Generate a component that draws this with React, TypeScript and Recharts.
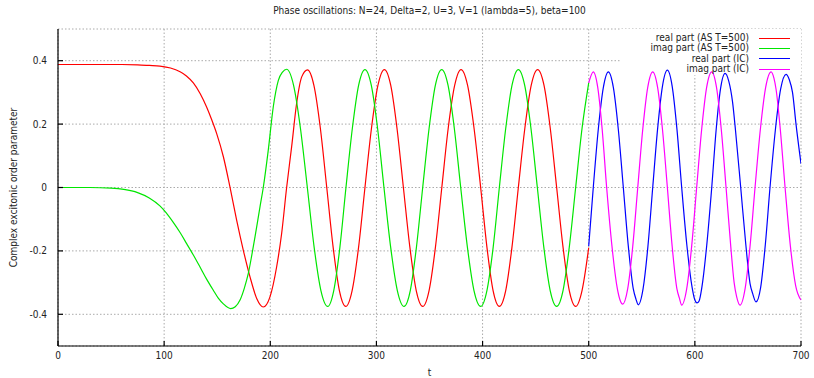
import React from 'react';
import { LineChart, Line, XAxis, YAxis, CartesianGrid, ReferenceArea, Legend } from 'recharts';

// [t, value] pairs
const realAS: [number, number][] = [
  [0, 0.388], [30, 0.388], [60, 0.388], [75, 0.387], [86, 0.385], [96, 0.383], [106, 0.377], [115, 0.365],
  [121, 0.352], [127.5, 0.33], [134, 0.296], [140, 0.254], [145, 0.212], [149.5, 0.17], [155.8, 0.097],
  [162, 0.002], [168.3, -0.103], [174.6, -0.198], [180.9, -0.282], [187.2, -0.35], [193.4, -0.377],
  [199.7, -0.345], [206, -0.25], [210.7, -0.145], [215.4, 0], [220.1, 0.128], [224.8, 0.265], [229.6, 0.349],
  [235.1, 0.371], [241.1, 0.322], [247.2, 0.186], [253.2, 0], [259.2, -0.188], [265.1, -0.325], [271.1, -0.375],
  [277.1, -0.325], [283.2, -0.188], [289.2, 0], [295.3, 0.186], [301.4, 0.322], [307.5, 0.372], [313.5, 0.322],
  [319.4, 0.186], [325.4, 0], [331.5, -0.188], [337.5, -0.325], [343.6, -0.375], [349.6, -0.325], [355.6, -0.188],
  [361.6, 0], [367.6, 0.186], [373.7, 0.322], [379.7, 0.372], [385.9, 0.322], [392, 0.186], [398.2, 0],
  [404.1, -0.188], [409.9, -0.325], [415.8, -0.375], [421.8, -0.325], [427.7, -0.188], [433.7, 0], [439.8, 0.186],
  [445.8, 0.322], [451.9, 0.372], [457.9, 0.322], [463.8, 0.186], [469.8, 0], [475.8, -0.188], [481.7, -0.325],
  [487.7, -0.375], [493.7, -0.325], [500, -0.19],
];

const imagAS: [number, number][] = [
  [0, 0], [30, 0], [50, -0.002], [62, -0.006], [75, -0.016], [86, -0.033], [96, -0.058], [102, -0.08],
  [108.6, -0.11], [115, -0.142], [121.2, -0.177], [127.5, -0.213], [133.8, -0.251], [140, -0.289], [146.3, -0.324],
  [151, -0.349], [155.8, -0.367], [162.7, -0.382], [167, -0.376], [171.5, -0.355], [175.5, -0.318], [179.3, -0.271],
  [182.5, -0.215], [185.6, -0.156], [190.3, -0.061], [193.4, 0], [198.1, 0.118], [202.8, 0.254], [207.6, 0.338],
  [211.5, 0.364], [215.4, 0.373], [221.9, 0.323], [228.4, 0.187], [234.9, 0], [241.3, -0.188], [247.7, -0.325],
  [254.1, -0.375], [259.8, -0.325], [265.6, -0.188], [271.3, 0], [277.3, 0.186], [283.2, 0.322], [289.2, 0.372],
  [295.2, 0.322], [301.1, 0.186], [307.1, 0], [313.4, -0.188], [319.7, -0.325], [326, -0.375], [331.9, -0.325],
  [337.7, -0.188], [343.6, 0], [349.6, 0.186], [355.5, 0.322], [361.5, 0.372], [367.5, 0.322], [373.4, 0.186],
  [379.4, 0], [385.7, -0.188], [391.9, -0.325], [398.2, -0.375], [404.1, -0.325], [410, -0.188], [415.8, 0],
  [421.8, 0.186], [427.7, 0.322], [433.7, 0.372], [439.7, 0.322], [445.6, 0.186], [451.6, 0], [457.7, -0.188],
  [463.7, -0.325], [469.8, -0.375], [475.8, -0.325], [481.7, -0.188], [487.7, 0], [493.7, 0.186], [500, 0.33],
];

const realIC: [number, number][] = [
  [500, -0.185], [504.3, 0], [509, 0.183], [513.8, 0.316], [518.5, 0.365], [523.2, 0.316], [527.9, 0.183],
  [532.6, 0], [537.3, -0.185], [542, -0.32], [544.5, -0.352], [546.7, -0.37], [551.2, -0.32], [555.8, -0.185],
  [560.3, 0], [564.9, 0.185], [569.5, 0.32], [574.1, 0.37], [578.6, 0.32], [583.1, 0.185], [587.6, 0],
  [592.5, -0.183], [597.4, -0.315], [600, -0.355], [602, -0.364], [604, -0.358], [606.6, -0.315], [611.2, -0.182],
  [615.9, 0], [620, 0.18], [624.2, 0.312], [628.4, 0.36], [632, 0.335], [635.5, 0.27], [638.3, 0.18], [643.2, 0],
  [648, -0.18], [652, -0.303], [654.5, -0.335], [657.6, -0.361], [662, -0.315], [666.4, -0.18], [670.8, 0],
  [675.8, 0.18], [680.8, 0.31], [685.9, 0.357], [689, 0.34], [692, 0.3], [695.3, 0.2], [700, 0.075],
];

const imagIC: [number, number][] = [
  [500, 0.33], [504.3, 0.365], [508.5, 0.316], [512.7, 0.183], [516.9, 0], [521.9, -0.185], [527, -0.32],
  [529.5, -0.355], [532, -0.368], [536.7, -0.32], [541.5, -0.185], [546.2, 0], [550.9, 0.183], [555.6, 0.316],
  [560.3, 0.365], [564.9, 0.316], [569.5, 0.183], [574.1, 0], [578.6, -0.185], [583.1, -0.32], [585.5, -0.35],
  [587.6, -0.371], [592.3, -0.32], [597, -0.185], [601.7, 0], [606.4, 0.183], [611.1, 0.316], [615.9, 0.365],
  [620.4, 0.316], [624.9, 0.183], [629.4, 0], [633.8, -0.185], [637, -0.3], [639.4, -0.345], [642.6, -0.371],
  [647.3, -0.32], [652, -0.185], [656.7, 0], [661.7, 0.183], [666.7, 0.316], [671.8, 0.365], [674.5, 0.345],
  [676.5, 0.31], [680.5, 0.183], [685, 0], [690, -0.185], [695, -0.31], [700, -0.355],
];

const xTicks = [0, 100, 200, 300, 400, 500, 600, 700];
const yTicks = [-0.4, -0.2, 0, 0.2, 0.4];

const series = [
  { name: 'real part (AS T=500)', color: '#ff0000', pts: realAS },
  { name: 'imag part (AS T=500)', color: '#00e600', pts: imagAS },
  { name: 'real part (IC)', color: '#0000ff', pts: realIC },
  { name: 'imag part (IC)', color: '#ff00ff', pts: imagIC },
];

const font = "'DejaVu Sans Condensed', 'DejaVu Sans', sans-serif";
const tickStyle = { fontSize: 10, fill: '#222', fontFamily: font };

const KeyBox = () => (
  <div style={{ fontFamily: font, fontSize: 10, color: '#222', lineHeight: '10.3px' }}>
    {series.map(s => (
      <div key={s.name} style={{ display: 'flex', alignItems: 'center', justifyContent: 'flex-end' }}>
        <span>{s.name}</span>
        <span style={{ display: 'inline-block', width: 31, height: 0, borderTop: `1.5px solid ${s.color}`, marginLeft: 10 }} />
      </div>
    ))}
  </div>
);

export default function App() {
  return (
    <div style={{ position: 'absolute', left: 0, top: 0, width: 814, height: 378, background: '#fff' }}>
      <div style={{ position: 'absolute', top: 5, left: 58, width: 743, textAlign: 'center', fontFamily: font, fontSize: 10, color: '#222' }}>
        Phase oscillations: N=24, Delta=2, U=3, V=1 (lambda=5), beta=100
      </div>
      <LineChart width={814} height={378} margin={{ top: 29, right: 13, left: 0, bottom: 0 }}>
        <CartesianGrid stroke="#aaa" strokeDasharray="1.5 2" />
        <ReferenceArea x1={529.5} x2={700} y1={0.354} y2={0.5} fill="#fff" fillOpacity={1} stroke="none" />
        <XAxis dataKey="t" type="number" domain={[0, 700]} ticks={xTicks} height={32} allowDataOverflow
          tick={tickStyle} tickSize={-5} tickMargin={11} stroke="#000" strokeWidth={1.2}
          label={{ value: 't', position: 'insideBottom', offset: 2, style: { fontSize: 10, fill: '#222', fontFamily: font } }} />
        <XAxis xAxisId="top" orientation="top" type="number" domain={[0, 700]} ticks={xTicks} height={0}
          tickFormatter={() => ''} tickSize={-5} stroke="#000" strokeWidth={1.2} />
        <YAxis type="number" domain={[-0.5, 0.5]} ticks={yTicks} width={58} allowDataOverflow
          tick={tickStyle} tickSize={-5} tickMargin={16} stroke="#000" strokeWidth={1.2}
          tickFormatter={(v: number) => (v === 0 ? '0' : v.toFixed(1))}
          label={{ value: 'Complex excitonic order parameter', angle: -90, position: 'insideLeft', offset: 13,
            style: { textAnchor: 'middle', fontSize: 10, fill: '#222', fontFamily: font } }} />
        <YAxis yAxisId="right" orientation="right" type="number" domain={[-0.5, 0.5]} ticks={yTicks} width={0}
          tickFormatter={() => ''} tickSize={-5} stroke="#000" strokeWidth={1.2} />
        {series.map(s => (
          <Line key={s.name} data={s.pts.map(([t, v]) => ({ t, v }))} dataKey="v" type="monotone"
            stroke={s.color} strokeWidth={1.2} dot={false} isAnimationActive={false} />
        ))}
        <Legend layout="vertical" align="center" verticalAlign="middle" content={() => <KeyBox />}
          wrapperStyle={{ position: 'absolute', top: 33, left: 560, width: 230, bottom: 'auto' }} />
      </LineChart>
    </div>
  );
}
